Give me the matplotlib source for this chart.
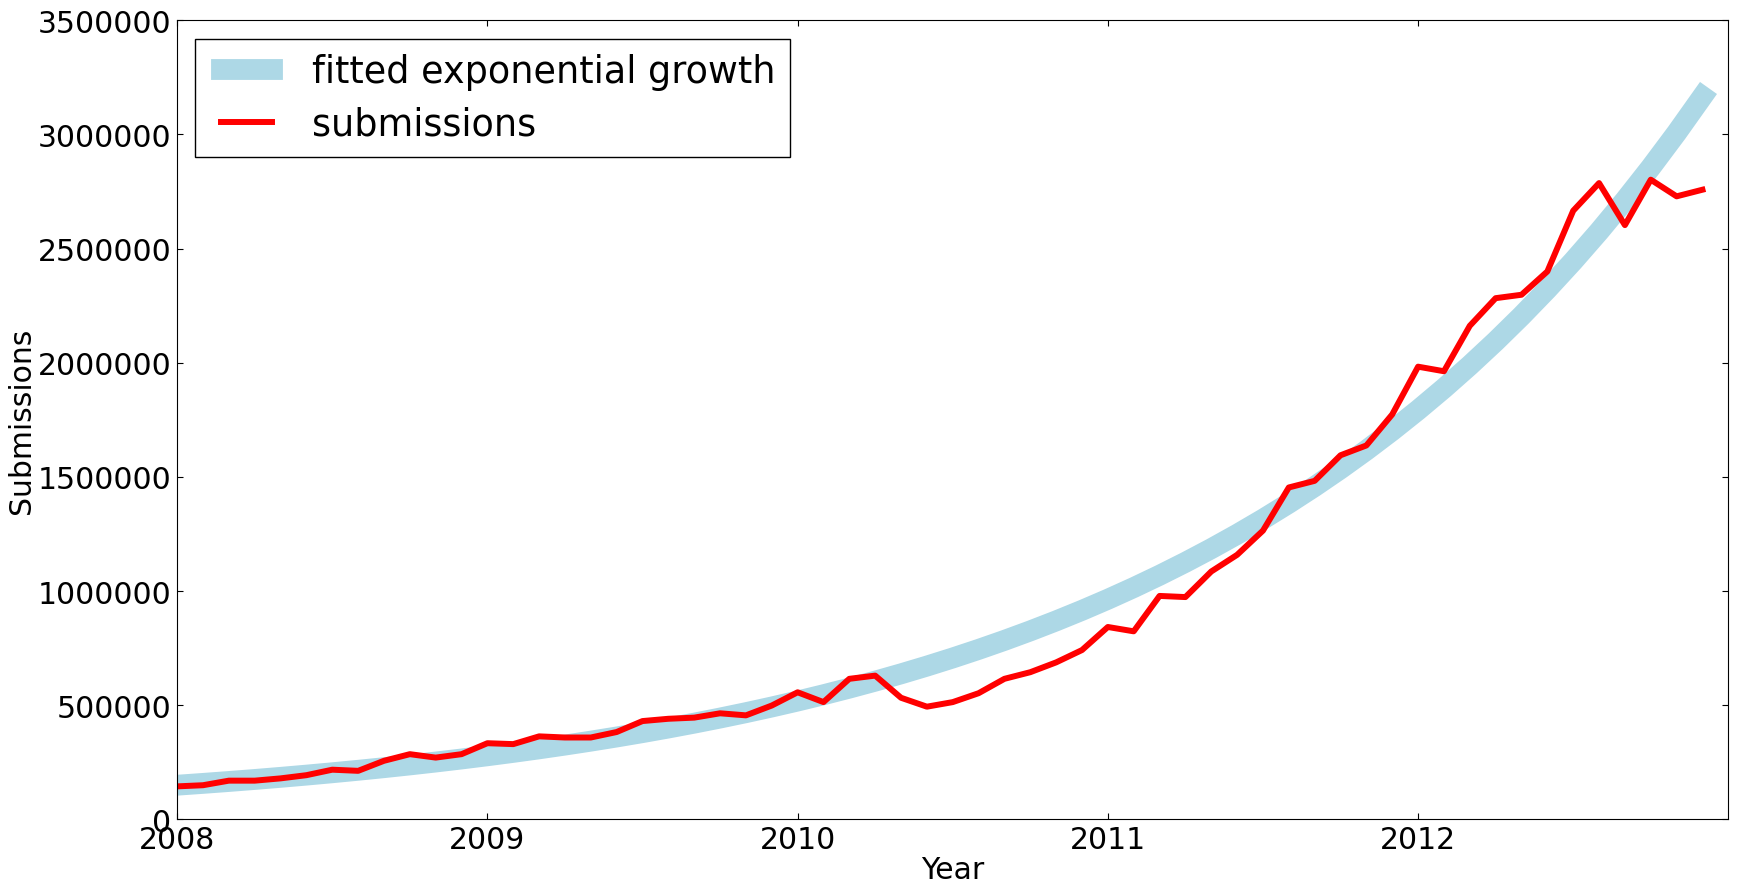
import numpy as np
import matplotlib
matplotlib.use("Agg")
import matplotlib.pyplot as plt

# monthly submissions, Jan 2008 .. Dec 2012
submissions = [
    145000, 150000, 170000, 170000, 180000, 194000, 218000, 213000, 257000, 286000, 271000, 286000,
    334000, 330000, 364000, 359000, 359000, 383000, 431000, 441000, 446000, 465000, 456000, 499000,
    557000, 514000, 616000, 630000, 533000, 494000, 514000, 553000, 616000, 645000, 688000, 742000,
    843000, 824000, 979000, 974000, 1086000, 1159000, 1265000, 1454000, 1483000, 1595000, 1638000, 1774000,
    1983000, 1963000, 2162000, 2283000, 2298000, 2400000, 2666000, 2787000, 2603000, 2802000, 2729000, 2758000,
]
start_year = 2008
year_ticks = [2008, 2009, 2010, 2011, 2012]
y_ticks = [0, 500000, 1000000, 1500000, 2000000, 2500000, 3000000, 3500000]

y = np.array(submissions, dtype=float)
t = start_year + np.arange(len(y)) / 12.0

# exponential fit (log-linear, weighted so it behaves like a fit in linear space)
b, a = np.polyfit(t - start_year, np.log(y), 1, w=y)
fit = np.exp(a + b * (t - start_year))

fig = plt.figure(figsize=(17.37, 8.87), dpi=100)
ax = fig.add_axes([0.102, 0.075, 0.893, 0.901])

ax.plot(t, fit, color="lightblue", lw=15, label="fitted exponential growth")
ax.plot(t, y, color="red", lw=4.3, label="submissions")

ax.set_xlim(2008, 2013)
ax.set_ylim(0, 3500000)
ax.set_xticks(year_ticks)
ax.set_yticks(y_ticks)
ax.ticklabel_format(useOffset=False, style="plain")
ax.tick_params(direction="in", top=True, right=True, labelsize=21.5, length=4, pad=4)
ax.set_xlabel("Year", fontsize=21.5, labelpad=1)
ax.set_ylabel("Submissions", fontsize=21.5, labelpad=1)

# old-style legend: two-point handles with padding at both ends
leg = ax.legend(loc="upper left", fontsize=26.3, fancybox=False, framealpha=1,
                numpoints=2, borderpad=0.4, handlelength=2.0, handletextpad=0.8,
                labelspacing=0.42, borderaxespad=0.5)
leg.get_frame().set_edgecolor("black")

fig.savefig("out.png", dpi=100)
